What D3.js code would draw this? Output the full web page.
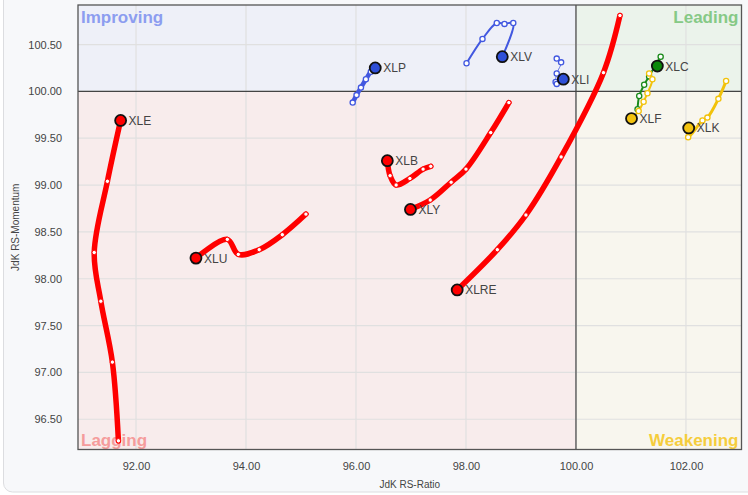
<!DOCTYPE html>
<html><head><meta charset="utf-8">
<script src="https://cdn.jsdelivr.net/npm/d3@7"></script>
<style>
html,body{margin:0;padding:0;background:#fff;}
svg{display:block;font-family:Arial,"Liberation Sans",sans-serif;}
</style></head>
<body><svg id="c" width="748" height="495"></svg>
<script>
// ---- data ----
const xTicks = [92, 94, 96, 98, 100, 102];
const yTicks = [96.5, 97, 97.5, 98, 98.5, 99, 99.5, 100, 100.5];
const tickers = ["XLE","XLU","XLB","XLY","XLRE","XLP","XLV","XLI","XLC","XLF","XLK"];
const XLE  = [[91.68,96.27],[91.57,97.11],[91.36,97.76],[91.24,98.28],[91.48,99.04],[91.72,99.69]];
const XLU  = [[95.09,98.69],[94.66,98.47],[94.24,98.31],[93.86,98.26],[93.66,98.42],[93.09,98.22]];
const XLB  = [[97.36,99.20],[97.22,99.17],[96.98,99.07],[96.73,99.00],[96.62,99.10],[96.57,99.26]];
const XLY  = [[98.78,99.88],[98.45,99.56],[98.00,99.17],[97.73,99.03],[97.35,98.84],[96.99,98.74]];
const XLRE = [[100.80,100.81],[100.50,100.20],[99.73,99.30],[99.09,98.68],[98.57,98.31],[97.84,97.88]];
const XLP  = [[95.94,99.88],[96.01,99.96],[96.09,100.04],[96.18,100.13],[96.27,100.21],[96.35,100.25]];
const XLV  = [[98.01,100.30],[98.30,100.56],[98.56,100.73],[98.70,100.72],[98.86,100.73],[98.66,100.37]];
const XLI  = [[99.65,100.35],[99.73,100.31],[99.65,100.19],[99.63,100.10],[99.65,100.08],[99.77,100.13]];
const XLC  = [[101.12,99.81],[101.15,99.95],[101.24,100.07],[101.33,100.16],[101.54,100.37],[101.48,100.27]];
const XLF  = [[101.33,100.19],[101.39,100.13],[101.30,99.98],[101.23,99.89],[101.14,99.79],[101.01,99.71]];
const XLK  = [[102.73,100.11],[102.59,99.92],[102.39,99.72],[102.30,99.69],[102.04,99.51],[102.05,99.61]];
const tails = {XLE, XLU, XLB, XLY, XLRE, XLP, XLV, XLI, XLC, XLF, XLK};

// ---- styles ----
const quad = {
  Lagging:   {line:"#ff0000", fill:"#ff0000"},
  Improving: {line:"#4258e0", fill:"#2e4fd8"},
  Leading:   {line:"#1a8a1a", fill:"#0a880a"},
  Weakening: {line:"#f2c20a", fill:"#f2c20f"}
};
const widths = {XLE:5.5,XLU:5.5,XLB:5.5,XLY:5.5,XLRE:5.5,XLP:4.5,XLV:2,XLI:1,XLC:2,XLF:2,XLK:3};

const svg = d3.select("#c");
const W = 748, H = 495;
const m = {l:78, t:5, r:6.5, b:45.5};
const x = d3.scaleLinear().domain([90.945, 103.01]).range([m.l, W - m.r]);
const y = d3.scaleLinear().domain([96.177, 100.922]).range([H - m.b, m.t]);

// outer panel
svg.append("rect").attr("x",3.5).attr("y",-10).attr("width",800).attr("height",502)
  .attr("rx",9).attr("fill","#f7f8fa").attr("stroke","#dcdde0");

const x0 = x.range()[0], x1 = x.range()[1], y0 = y.range()[1], y1 = y.range()[0];
const cx = x(100), cy = y(100);
const qs = [
  {n:"Improving", x:x0, y:y0, w:cx-x0, h:cy-y0, c:"#eef0f8"},
  {n:"Leading",   x:cx, y:y0, w:x1-cx, h:cy-y0, c:"#ebf3eb"},
  {n:"Lagging",   x:x0, y:cy, w:cx-x0, h:y1-cy, c:"#f8ecec"},
  {n:"Weakening", x:cx, y:cy, w:x1-cx, h:y1-cy, c:"#f8f6ee"}
];
svg.selectAll("rect.q").data(qs).join("rect").attr("class","q")
  .attr("x",d=>d.x).attr("y",d=>d.y).attr("width",d=>d.w).attr("height",d=>d.h).attr("fill",d=>d.c);

// grid
const g = svg.append("g");
g.selectAll("line.gx").data(xTicks).join("line")
  .attr("x1",d=>x(d)).attr("x2",d=>x(d)).attr("y1",y0).attr("y2",y1)
  .attr("stroke","#e0e0e0").attr("stroke-width",1.2);
g.selectAll("line.gy").data(yTicks).join("line").attr("class","gy")
  .attr("y1",d=>y(d)).attr("y2",d=>y(d)).attr("x1",x0).attr("x2",x1)
  .attr("stroke","#e0e0e0").attr("stroke-width",1.2);

// quadrant labels
const ql = [
  {t:"Improving", x:x0+3, y:y0+18, a:"start", c:"#8c9df0"},
  {t:"Leading",   x:x1-3, y:y0+18, a:"end",   c:"#86c986"},
  {t:"Lagging",   x:x0+3, y:y1-4,  a:"start", c:"#f59c9c"},
  {t:"Weakening", x:x1-3, y:y1-4,  a:"end",   c:"#f5cd3c"}
];
svg.selectAll("text.ql").data(ql).join("text").attr("class","ql")
  .attr("x",d=>d.x).attr("y",d=>d.y).attr("text-anchor",d=>d.a)
  .attr("fill",d=>d.c).attr("font-size",17).attr("font-weight","bold").text(d=>d.t);

// center lines
svg.append("line").attr("x1",cx).attr("x2",cx).attr("y1",y0).attr("y2",y1).attr("stroke","#444").attr("stroke-width",1.2);
svg.append("line").attr("y1",cy).attr("y2",cy).attr("x1",x0).attr("x2",x1).attr("stroke","#444").attr("stroke-width",1.2);
svg.append("rect").attr("x",x0).attr("y",y0).attr("width",x1-x0).attr("height",y1-y0)
  .attr("fill","none").attr("stroke","#555").attr("stroke-width",1.3);

// axes
const xa = svg.append("g").attr("transform",`translate(0,${y1})`)
  .call(d3.axisBottom(x).tickValues(xTicks).tickFormat(d3.format(".2f")).tickSize(0).tickPadding(13));
const ya = svg.append("g").attr("transform",`translate(${x0},0)`)
  .call(d3.axisLeft(y).tickValues(yTicks).tickFormat(d3.format(".2f")).tickSize(0).tickPadding(16));
[xa,ya].forEach(a=>{a.select(".domain").remove();
  a.selectAll("text").attr("fill","#444").attr("font-size",11).attr("font-family","Arial,'Liberation Sans',sans-serif");});

svg.append("text").attr("x",(x0+x1)/2).attr("y",488).attr("text-anchor","middle")
  .attr("font-size",10).attr("fill","#444").text("JdK RS-Ratio");
svg.append("text").attr("transform",`translate(19,${(y0+y1)/2}) rotate(-90)`).attr("text-anchor","middle")
  .attr("font-size",10).attr("fill","#444").text("JdK RS-Momentum");

// tails
function quadOf(p){ return p[0]>=100 ? (p[1]>=100?"Leading":"Weakening") : (p[1]>=100?"Improving":"Lagging"); }
const line = d3.line().x(d=>x(d[0])).y(d=>y(d[1])).curve(d3.curveCatmullRom.alpha(0.5));
const layer = svg.append("g");
tickers.forEach(t=>{
  const pts = tails[t];
  const head = pts[pts.length-1];
  const st = quad[quadOf(head)];
  const w = widths[t];
  const gg = layer.append("g");
  gg.append("path").attr("d",line(pts)).attr("fill","none").attr("stroke",st.line)
    .attr("stroke-width",w).attr("stroke-linecap","round").attr("stroke-linejoin","round")
    .attr("opacity", t==="XLI"?0.8:1);
  gg.selectAll("circle.s").data(pts.slice(0,-1)).join("circle")
    .attr("cx",d=>x(d[0])).attr("cy",d=>y(d[1]))
    .attr("r", w>=5 ? 2.2 : 2.6)
    .attr("fill","#fff").attr("stroke",st.line).attr("stroke-width", w>=5?1:1.3);
  gg.append("circle").attr("cx",x(head[0])).attr("cy",y(head[1])).attr("r",5.5)
    .attr("fill",st.fill).attr("stroke","#111").attr("stroke-width",1.8);
  gg.append("text").attr("x",x(head[0])+8).attr("y",y(head[1])+4.5)
    .attr("font-size",12).attr("fill","#444").text(t);
});
</script></body></html>
